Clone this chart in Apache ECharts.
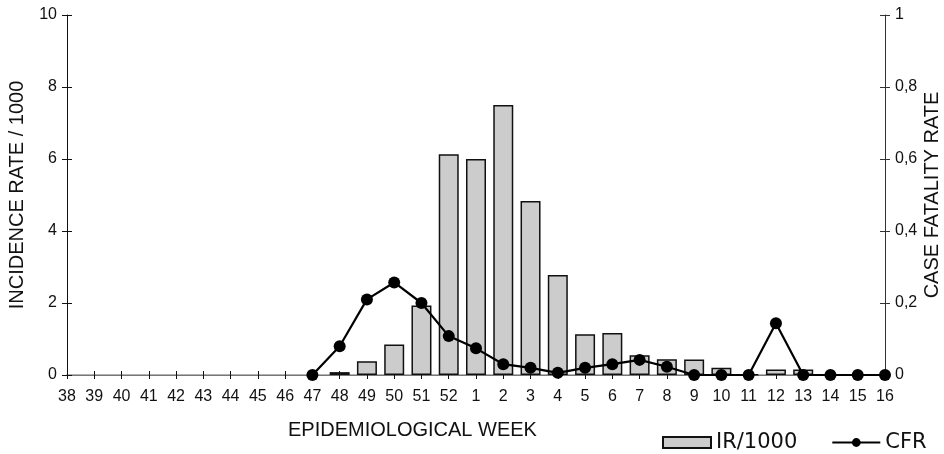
<!DOCTYPE html>
<html>
<head>
<meta charset="utf-8">
<script src="https://cdn.jsdelivr.net/npm/echarts@6/dist/echarts.min.js"></script>
<style>html,body{margin:0;padding:0;background:#fff}#c{width:944px;height:454px}</style>
</head>
<body>
<div id="c"></div>
<script>
var weeks = ['38','39','40','41','42','43','44','45','46','47','48','49','50','51','52','1','2','3','4','5','6','7','8','9','10','11','12','13','14','15','16'];
var irValues = ['-','-','-','-','-','-','-','-','-','-',0.08,0.38,0.85,1.93,6.13,6.0,7.5,4.83,2.78,1.13,1.17,0.55,0.44,0.43,0.2,0.02,0.15,0.15,'-','-','-'];
var cfrValues = ['-','-','-','-','-','-','-','-','-',0,0.08,0.21,0.257,0.2,0.108,0.074,0.03,0.02,0.006,0.02,0.03,0.042,0.023,0,0,0,0.144,0,0,0,0];
var leftTicks = {min:0, max:10, interval:2};
var rightTicks = {min:0, max:1, interval:0.2};

var tickFont = '"Liberation Sans Narrow", "Liberation Sans", Arial, sans-serif';
var titleFont = '"Liberation Sans", Arial, sans-serif';
var legendFont = '"DejaVu Sans", sans-serif';

var chart = echarts.init(document.getElementById('c'), null, {renderer:'canvas'});
chart.setOption({
  animation: false,
  backgroundColor: '#fff',
  grid: {left: 67, right: 59, top: 15, bottom: 79, containLabel: false, outerBoundsMode: 'none'},
  title: {
    text: 'EPIDEMIOLOGICAL WEEK',
    left: 288, top: 420,
    textStyle: {fontFamily: titleFont, fontSize: 20, fontWeight: 'normal', color: '#111'},
    padding: 0
  },
  legend: {
    left: 662, top: 432, padding: 0,
    itemWidth: 48, itemHeight: 11, itemGap: 34,
    textStyle: {fontFamily: legendFont, fontSize: 21, color: '#111'},
    data: [{name:'IR/1000', icon:'rect'}, {name:'CFR'}]
  },
  xAxis: [
    {type:'category', data: weeks, boundaryGap:false, position:'bottom',
     axisLine:{lineStyle:{color:'#111', width:1}},
     axisTick:{alignWithLabel:true, length:4, lineStyle:{color:'#111'}},
     axisLabel:{margin:14, fontFamily: tickFont, fontSize:16, color:'#111', interval:0},
     splitLine:{show:false}},
    {type:'category', data: weeks, boundaryGap:false, position:'bottom',
     axisLine:{show:false},
     axisTick:{inside:true, length:4, lineStyle:{color:'#111'}},
     axisLabel:{show:false}, splitLine:{show:false}},
    {type:'category', data: weeks, boundaryGap:false, position:'top',
     axisLine:{lineStyle:{color:'#999', width:1.5}},
     axisTick:{show:false}, axisLabel:{show:false}, splitLine:{show:false}}
  ],
  yAxis: [
    {type:'value', position:'left', min:leftTicks.min, max:leftTicks.max, interval:leftTicks.interval,
     name:'INCIDENCE RATE / 1000', nameLocation:'middle', nameGap:40, nameMoveOverlap:false,
     nameTextStyle:{fontFamily:titleFont, fontSize:20, color:'#111'},
     axisLine:{show:true, lineStyle:{color:'#111'}},
     axisTick:{show:true, length:5, lineStyle:{color:'#111'}},
     axisLabel:{margin:10, fontFamily:tickFont, fontSize:16, color:'#111'},
     splitLine:{show:false}},
    {type:'value', position:'right', min:rightTicks.min, max:rightTicks.max, interval:rightTicks.interval,
     name:'CASE FATALITY RATE', nameLocation:'middle', nameGap:37, nameMoveOverlap:false,
     nameTextStyle:{fontFamily:titleFont, fontSize:20, color:'#111'},
     axisLine:{show:true, lineStyle:{color:'#333'}},
     axisTick:{show:true, length:5, lineStyle:{color:'#333'}},
     axisLabel:{margin:10, fontFamily:tickFont, fontSize:16, color:'#111',
       formatter:function(v){return String(Math.round(v*10)/10).replace('.', ',');}},
     splitLine:{show:false}},
    {type:'value', position:'left', min:leftTicks.min, max:leftTicks.max, interval:leftTicks.interval,
     axisLine:{show:false}, axisTick:{show:true, inside:true, length:5, lineStyle:{color:'#111'}},
     axisLabel:{show:false}, splitLine:{show:false}},
    {type:'value', position:'right', min:rightTicks.min, max:rightTicks.max, interval:rightTicks.interval,
     axisLine:{show:false}, axisTick:{show:true, inside:true, length:5, lineStyle:{color:'#333'}},
     axisLabel:{show:false}, splitLine:{show:false}}
  ],
  series: [
    {name:'IR/1000', type:'bar', xAxisIndex:0, yAxisIndex:0, data: irValues, barWidth:20,
     itemStyle:{color:'#cccccc', borderColor:'#111', borderWidth:1.5}},
    {name:'CFR', type:'line', xAxisIndex:0, yAxisIndex:1, data: cfrValues, clip:false,
     symbol:'circle', symbolSize:12, showSymbol:true,
     lineStyle:{color:'#000', width:2.2}, itemStyle:{color:'#000'}}
  ]
});
</script>
</body>
</html>
